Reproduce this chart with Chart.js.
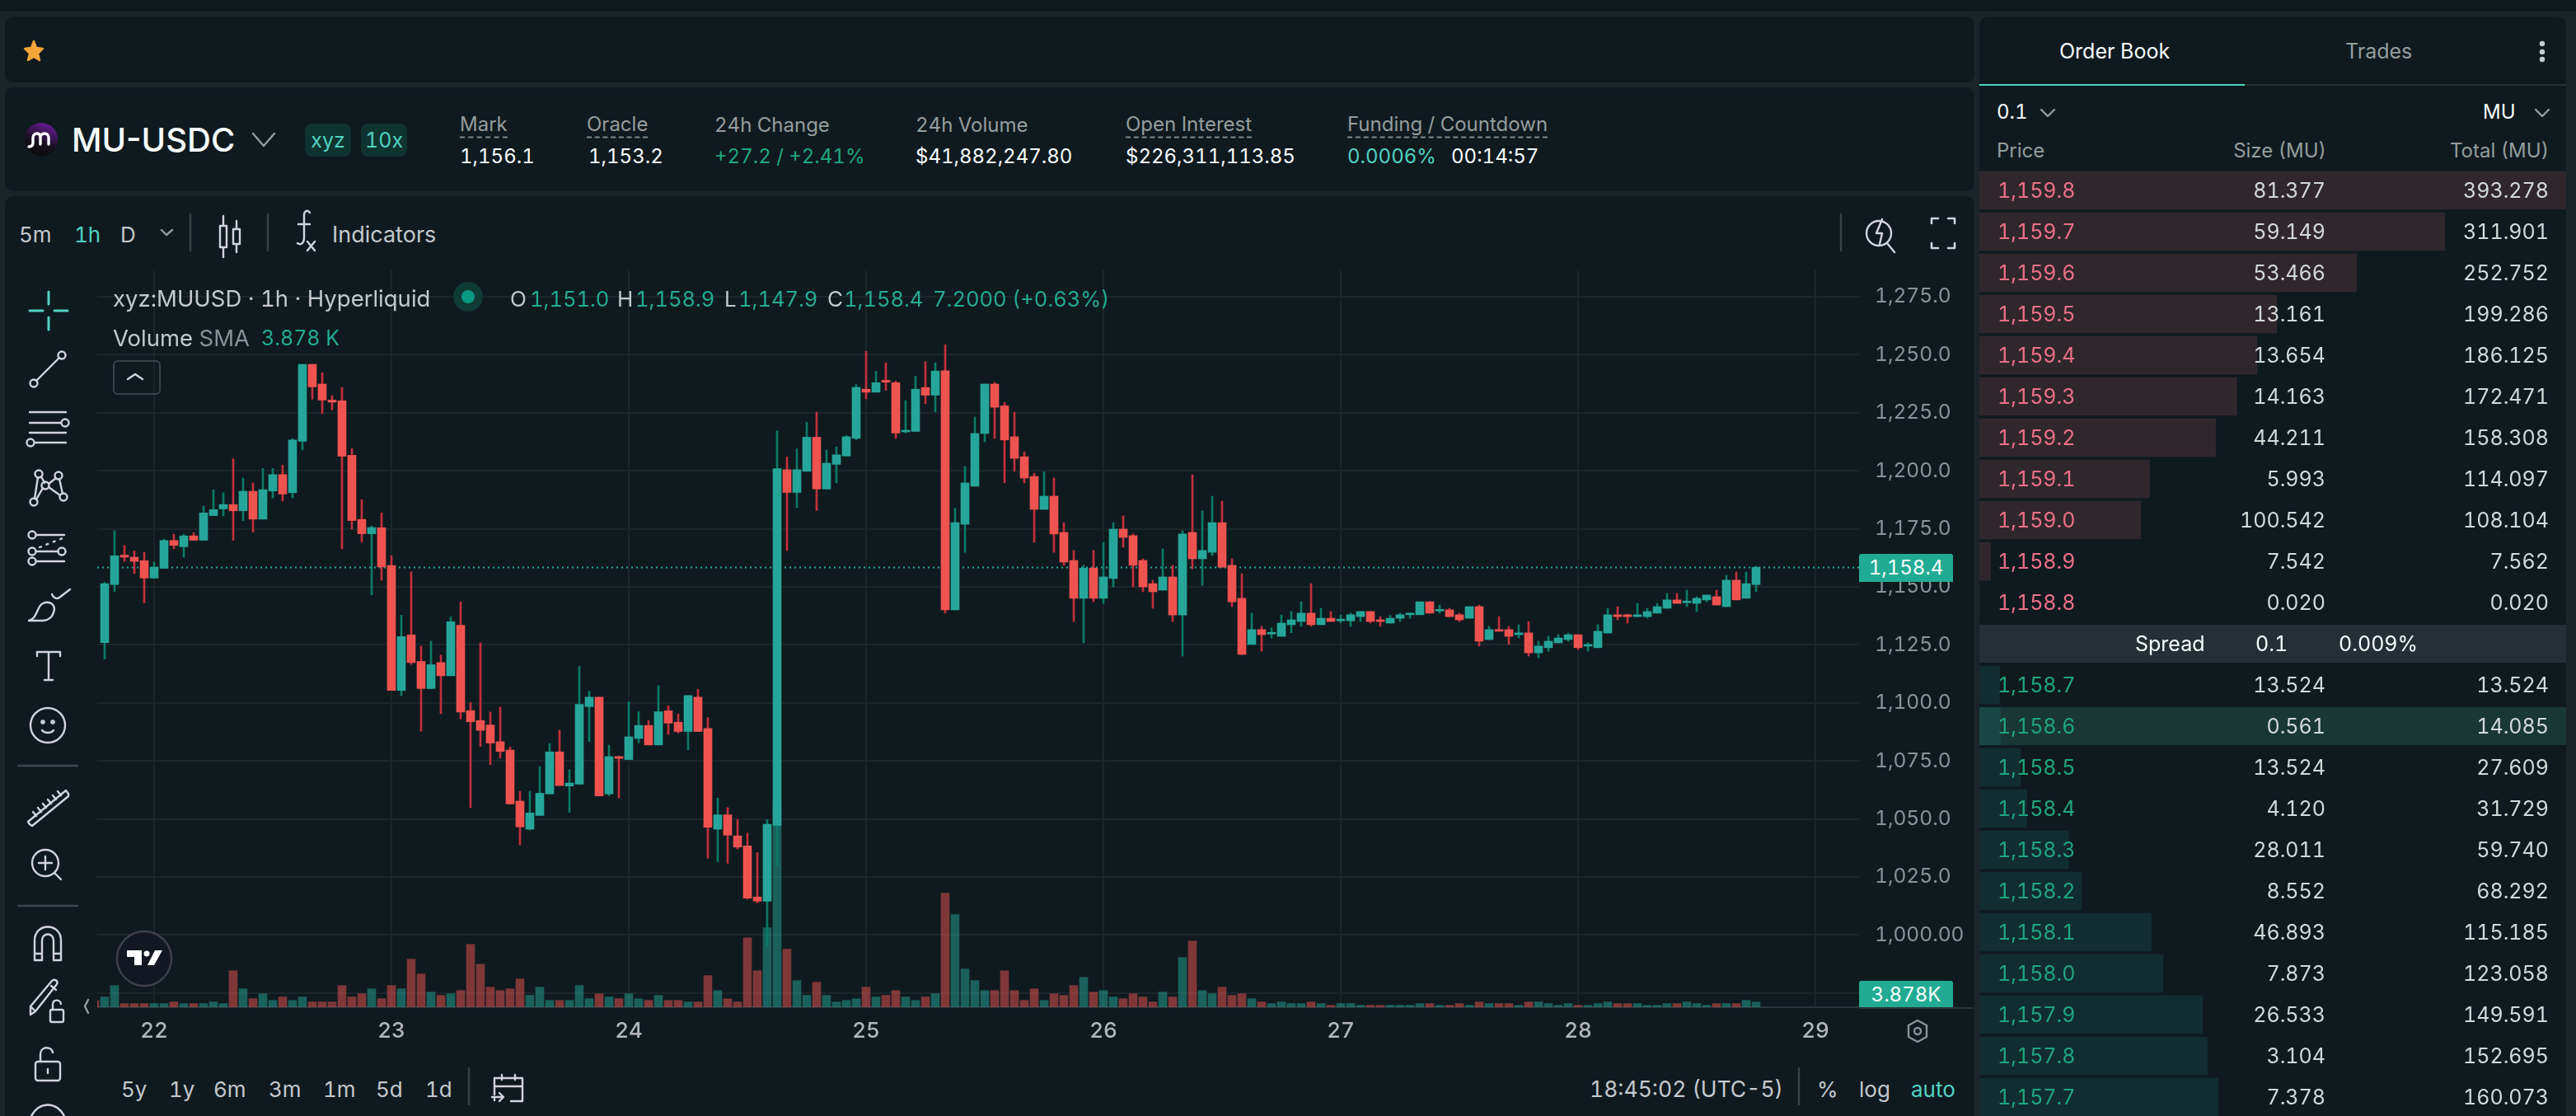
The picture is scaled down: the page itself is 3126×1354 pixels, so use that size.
<!DOCTYPE html>
<html>
<head>
<meta charset="utf-8">
<title>MU-USDC</title>
<script src="https://cdn.jsdelivr.net/npm/chart.js@4/dist/chart.umd.min.js"></script>
<style>
html, body { margin: 0; width: 3126px; height: 1354px; overflow: hidden; background: #1b2429; font-family: Inter, sans-serif; font-variant-numeric: tabular-nums; }
.panel { position: absolute; background: #0f1a1f; border-radius: 10px; }
.t { position: absolute; transform: translateY(-50%); white-space: nowrap; font-size: 25px; color: #d2dad9; }
.r { transform: translate(-100%, -50%); }
.dim { color: #949e9c; }
.w { color: #f6fefd; }
.teal { color: #50d2c1; }
.up { color: #1fa67d; }
.val { font-size: 24px; }
.dash { border-bottom: 2px dashed #7f8a88; padding-bottom: 1px; }
.tool { font-size: 26px; color: #c3c9cc; }
.leg { font-size: 27.5px; color: #c3c9cc; }
.tv { font-size: 25.5px; color: #22ab94; }
.badge { position: absolute; top: 150px; height: 40px; line-height: 40px; border-radius: 8px; background: #0f332f; color: #50d2c1; text-align: center; font-size: 25px; }
.box { position: absolute; }
canvas { position: absolute; }
svg { position: absolute; left: 0; top: 0; fill: none; stroke: #d1d4dc; stroke-width: 2.4; stroke-linecap: round; stroke-linejoin: round; }
.tag { position: absolute; left: 2256px; width: 114px; text-align: center; color: #f6fefd; font-size: 24px; background: #22ab94; border-radius: 3px 3px 0 0; }
</style>
</head>
<body>

<div class="panel" style="left:-4px;top:-10px;width:3130px;height:24px;border-radius:0"></div>
<div class="panel" style="left:6px;top:20px;width:2390px;height:80px"></div>
<div class="panel" style="left:6px;top:106px;width:2390px;height:126px"></div>
<div class="panel" style="left:6px;top:238px;width:2390px;height:1130px"></div>
<div class="panel" style="left:2402px;top:20px;width:712px;height:1350px"></div>

<!-- header -->
<div class="t w" style="left:87px;top:169px;font-size:40px;font-weight:500;font-variant-numeric:normal">MU-USDC</div>
<div class="badge" style="left:370px;width:56px">xyz</div>
<div class="badge" style="left:438px;width:56px">10x</div>
<div class="t dim" style="left:558px;top:150px;font-size:24px"><span class="dash">Mark</span></div>
<div class="t w val" style="left:558px;top:189px">1,156.1</div>
<div class="t dim" style="left:712px;top:150px;font-size:24px"><span class="dash">Oracle</span></div>
<div class="t w val" style="left:714px;top:189px">1,153.2</div>
<div class="t dim" style="left:867px;top:151px;font-size:24px">24h Change</div>
<div class="t up val" style="left:867px;top:189px">+27.2 / +2.41%</div>
<div class="t dim" style="left:1111px;top:151px;font-size:24px">24h Volume</div>
<div class="t w val" style="left:1111px;top:189px">$41,882,247.80</div>
<div class="t dim" style="left:1366px;top:150px;font-size:24px"><span class="dash">Open Interest</span></div>
<div class="t w val" style="left:1366px;top:189px">$226,311,113.85</div>
<div class="t dim" style="left:1635px;top:150px;font-size:24px"><span class="dash">Funding / Countdown</span></div>
<div class="t teal val" style="left:1635px;top:189px">0.0006%</div>
<div class="t w val" style="left:1761px;top:189px">00:14:57</div>

<!-- toolbar -->
<div class="t tool" style="left:23px;top:284px">5m</div>
<div class="t tool" style="left:90px;top:284px;color:#50d2c1">1h</div>
<div class="t tool" style="left:146px;top:284px">D</div>
<div class="t tool" style="left:403px;top:284px;font-size:27px">Indicators</div>

<canvas id="chartPreco" width="2282" height="942" style="left:118px;top:328px"></canvas>

<!-- legend -->
<div class="t leg" style="left:137px;top:362px">xyz:MUUSD · 1h · Hyperliquid</div>
<div class="t tool" style="left:619px;top:362px">O</div>
<div class="t tv" style="left:643px;top:362px">1,151.0</div>
<div class="t tool" style="left:749px;top:362px">H</div>
<div class="t tv" style="left:771px;top:362px">1,158.9</div>
<div class="t tool" style="left:879px;top:362px">L</div>
<div class="t tv" style="left:896px;top:362px">1,147.9</div>
<div class="t tool" style="left:1004px;top:362px">C</div>
<div class="t tv" style="left:1024px;top:362px">1,158.4</div>
<div class="t tv" style="left:1132px;top:362px">7.2000 (+0.63%)</div>
<div class="t leg" style="left:137px;top:410px">Volume <span style="color:#8a9196">SMA</span></div>
<div class="t tv" style="left:317px;top:410px;font-size:25px">3.878 K</div>
<div class="box" style="left:137px;top:437px;width:54px;height:38px;border:2px solid #3a4146;border-radius:6px"></div>

<div class="tag" style="top:672px;height:34px;line-height:34px">1,158.4</div>
<div class="tag" style="top:1190px;height:32px;line-height:33px">3.878K</div>
<div class="box" style="left:2256px;top:1222px;width:138px;height:2px;background:#2a3338"></div>

<!-- bottom bar -->
<div class="t tool" style="left:147px;top:1321px">5y</div>
<div class="t tool" style="left:205px;top:1321px">1y</div>
<div class="t tool" style="left:259px;top:1321px">6m</div>
<div class="t tool" style="left:326px;top:1321px">3m</div>
<div class="t tool" style="left:392px;top:1321px">1m</div>
<div class="t tool" style="left:456px;top:1321px">5d</div>
<div class="t tool" style="left:516px;top:1321px">1d</div>
<div class="t tool" style="left:1929px;top:1321px;font-size:26.5px">18:45:02 (UTC-5)</div>
<div class="t tool" style="left:2205px;top:1321px">%</div>
<div class="t tool" style="left:2256px;top:1321px">log</div>
<div class="t tool" style="left:2319px;top:1321px;color:#50d2c1">auto</div>

<!-- order book -->
<div class="t w" style="left:2499px;top:62px">Order Book</div>
<div class="t dim" style="left:2846px;top:62px">Trades</div>
<div class="box" style="left:2402px;top:102px;width:322px;height:2px;background:#50d2c1"></div>
<div class="box" style="left:2724px;top:102px;width:390px;height:2px;background:#2c2f33"></div>
<div class="t w" style="left:2423px;top:135px;font-size:24px">0.1</div>
<div class="t w" style="left:3013px;top:135px;font-size:24px">MU</div>
<div class="t dim" style="left:2423px;top:182px;font-size:24px">Price</div>
<div class="t dim r" style="left:2823px;top:182px;font-size:24px">Size (MU)</div>
<div class="t dim r" style="left:3093px;top:182px;font-size:24px">Total (MU)</div>

<div class="box" style="left:2402px;top:758px;width:712px;height:46px;background:#272f36"></div>
<div class="box" style="left:2402px;top:858px;width:712px;height:46px;background:#183735"></div>
<canvas id="chartBook" width="712" height="1150" style="left:2402px;top:206px"></canvas>
<div id="linhas"></div>
<div class="t w" style="left:2591px;top:781px">Spread</div>
<div class="t w" style="left:2737px;top:781px">0.1</div>
<div class="t w" style="left:2838px;top:781px">0.009%</div>

<svg width="3126" height="1354">
  <!-- star -->
  <path d="M41 50l3 8 8 1-6 6 2 8-7-4-7 4 2-8-6-6 8-1z" fill="#f5a53a" stroke="#f5a53a"/>
  <!-- logo -->
  <defs><linearGradient id="lg" x1="0.7" y1="0" x2="0.3" y2="1"><stop offset="0" stop-color="#6a1a9a"/><stop offset="0.6" stop-color="#16101c"/><stop offset="1" stop-color="#0a0a0a"/></linearGradient></defs>
  <circle cx="50" cy="169" r="20" fill="url(#lg)" stroke="none"/>
  <path d="M35 178c4 0 5-2 5-5v-6c0-3 2-5 5-5s4 2 4 5v8M49 167c0-3 2-5 5-5s5 2 5 5v8" stroke="#fff" stroke-width="3.4"/>
  <path d="M307 162l13 15 13-15M196 279l6 6 7-6" stroke="#949e9c"/>
  <!-- toolbar icons -->
  <path d="M231 260v44M325 260v44M2234 260v44M569 1296v44M2183 1296v44" stroke="#3a4146"/>
  <path d="M267 274h8v26h-8zM271 262v12M271 300v12M283 278h8v18h-8zM287 268v10M287 296v10"/>
  <path d="M376 258c-3-4-7-2-7 3v28c0 6-4 9-8 6M362 272h14M373 293l9 11M382 293l-9 11"/>
  <circle cx="2280" cy="283" r="15"/><path d="M2290 295l9 11M2284 266l-7 17h7l-3 13"/>
  <path d="M2344 271v-6h8M2364 265h8v6M2372 295v6h-8M2352 301h-8v-6" stroke-width="2.6"/>
  <circle cx="568" cy="360" r="18" fill="#0f3b34" stroke="none"/><circle cx="568" cy="360" r="8" fill="#089981" stroke="none"/>
  <path d="M155 460l9-6 9 6"/>
  <!-- left tools -->
  <path d="M59 354v15M59 385v15M36 377h16M66 377h16" stroke="#50d2c1" stroke-width="3"/>
  <circle cx="41" cy="465" r="4.5"/><circle cx="75" cy="431" r="4.5"/><path d="M44 462l28-28"/>
  <path d="M36 500h44M36 513h38M36 525h44M42 537h38"/><circle cx="79" cy="513" r="4.5"/><circle cx="37" cy="537" r="4.5"/>
  <circle cx="47" cy="575" r="4.5"/><circle cx="71" cy="577" r="4.5"/><circle cx="55" cy="589" r="4.5"/><circle cx="77" cy="603" r="4.5"/><circle cx="41" cy="609" r="4.5"/>
  <path d="M46 579l-4 26M50 578l4 8M59 587l9-7M59 591l14 10M52 592l-8 14M72 581l4 18"/>
  <circle cx="39" cy="649" r="4.5"/><circle cx="39" cy="669" r="4.5"/><circle cx="75" cy="669" r="4.5"/><circle cx="39" cy="681" r="4.5"/>
  <path d="M44 649h34M44 669h26M44 681h34"/><path d="M48 664l28-11" stroke-dasharray="2 7"/>
  <path d="M35 753c8-2 9-10 13-17 5-9 22-6 17 7-2 7-8 10-13 10zM63 721c2 5 6 6 9 4l13-10"/>
  <path d="M45 796v-5h28v5M59 791v32M54 825h10"/>
  <circle cx="58" cy="880" r="21"/><circle cx="52" cy="876" r="1.6"/><circle cx="64" cy="876" r="1.6"/><path d="M51 886c3 4 11 4 14 0"/>
  <path d="M22 929h72M22 1099h72" stroke="#3f464b"/>
  <path d="M36 1000l-2-3 46-38 3 4 0 3-44 36zM44 990l-4-5M50 985l-4-5M56 980l-4-5M62 975l-4-5M68 970l-4-5M74 965l-4-5"/>
  <circle cx="55" cy="1047" r="16"/><path d="M55 1039v16M47 1047h16M66 1059l8 8"/>
  <path d="M42 1165v-24c0-22 32-22 32 0v24h-9v-24c0-10-14-10-14 0v24zM42 1157h9M65 1157h9"/>
  <path d="M37 1231v-10l26-31c3-3 8 0 6 4l-26 33zM37 1221l6 6M62 1196l6 5"/><rect x="61" y="1225" width="16" height="15" rx="2"/><path d="M64 1225v-6c0-7 9-7 10-1"/>
  <rect x="43" y="1288" width="30" height="23" rx="3"/><path d="M49 1288v-9c0-10 14-10 15-2M58 1297v5"/>
  <path d="M38 1354c10-18 30-18 40 0"/>
  <!-- bottom icons -->
  <path d="M107 1213l-4 8 4 8" stroke="#949e9c"/>
  <path d="M600 1335v-2M600 1328v-20h34v28h-14M600 1318h34M609 1304v6M625 1304v6M597 1331h14M606 1326l5 5-5 5"/>
  <path d="M2327 1238l11 6v14l-11 6-11-6v-14z" stroke="#8a9196"/><circle cx="2327" cy="1251" r="4" stroke="#8a9196"/>
  <circle cx="175" cy="1163" r="33" fill="#131722" stroke="#3d4148"/>
  <path d="M154 1153h18v18h-9v-10h-9zM188 1153h9l-10 18h-8z" fill="#fff" stroke="none"/><circle cx="178" cy="1157" r="3.5" fill="#fff" stroke="none"/>
  <!-- order book icons -->
  <path d="M2477 133l8 8 8-8M3077 133l8 8 8-8" stroke="#949e9c"/>
  <circle cx="3085" cy="53" r="2" fill="#c3c9cc" stroke="#c3c9cc"/><circle cx="3085" cy="63" r="2" fill="#c3c9cc" stroke="#c3c9cc"/><circle cx="3085" cy="72" r="2" fill="#c3c9cc" stroke="#c3c9cc"/>
</svg>

<script>
const opens = [
    1126.0,1151.0,1163.7,1162.8,1161.3,1153.8,1158.0,1170.0,1167.3,1172.0,
    1170.1,1180.7,1183.6,1185.5,1182.8,1191.2,1179.2,1191.3,1198.4,1190.6,
    1212.7,1245.9,1237.4,1230.5,1230.2,1206.7,1179.1,1172.9,1175.5,1159.2,
    1105.4,1129.3,1117.9,1106.2,1117.4,1111.7,1133.5,1096.7,1092.4,1090.5,
    1083.3,1079.7,1057.7,1045.6,1051.5,1060.8,1078.9,1064.2,1065.0,1098.4,
    1102.5,1060.8,1076.9,1075.6,1084.7,1090.3,1081.9,1096.6,1091.7,1087.7,
    1102.5,1089.0,1045.6,1051.8,1042.7,1038.4,1016.4,1014.6,1047.2,1200.5,
    1190.7,1199.8,1214.5,1192.2,1202.8,1206.4,1214.0,1235.2,1233.9,1239.0,
    1238.0,1216.8,1217.0,1235.9,1232.6,1243.1,1140.1,1177.0,1193.4,1216.1,
    1237.4,1228.0,1214.7,1206.1,1197.6,1183.4,1189.1,1173.5,1161.4,1145.1,
    1158.1,1145.1,1153.6,1174.9,1172.1,1161.4,1151.4,1148.6,1154.3,1137.9,
    1173.5,1162.1,1164.9,1177.7,1159.3,1145.1,1125.2,1131.6,1129.7,1128.7,
    1133.7,1135.1,1138.7,1133.7,1136.5,1135.4,1135.4,1137.2,1139.4,1135.8,
    1134.4,1136.5,1138.0,1138.0,1143.6,1139.6,1140.1,1138.0,1136.5,1141.5,
    1127.3,1131.6,1131.6,1129.4,1130.2,1121.6,1123.8,1125.9,1127.3,1129.4,
    1124.5,1123.8,1130.1,1138.0,1138.0,1137.2,1137.2,1138.7,1140.8,1144.4,
    1143.2,1142.9,1144.4,1145.8,1141.5,1152.9,1145.1,1151.0
];
const closes = [
    1151.4,1163.4,1162.8,1161.0,1153.8,1158.5,1170.0,1167.9,1172.0,1170.1,
    1181.9,1183.3,1185.5,1182.8,1191.2,1179.2,1191.9,1198.4,1190.0,1213.3,
    1245.9,1236.2,1230.5,1229.6,1206.3,1178.6,1172.9,1175.6,1158.6,1105.4,
    1128.6,1117.4,1106.2,1116.5,1111.7,1135.0,1096.1,1091.9,1088.2,1082.7,
    1079.1,1056.5,1046.6,1052.6,1061.1,1078.9,1064.4,1065.5,1099.4,1102.5,
    1059.9,1076.9,1076.1,1085.4,1090.3,1081.9,1096.2,1091.3,1087.7,1103.2,
    1087.7,1046.4,1051.8,1043.0,1037.9,1015.9,1014.6,1047.7,1201.0,1190.7,
    1200.5,1214.5,1192.2,1203.3,1206.9,1214.7,1236.0,1233.9,1238.0,1238.2,
    1216.3,1217.4,1235.2,1232.6,1243.0,1140.1,1177.7,1194.8,1216.1,1237.4,
    1227.4,1213.3,1205.4,1196.9,1183.4,1189.1,1172.8,1160.7,1145.1,1158.1,
    1145.1,1154.3,1174.9,1171.3,1159.3,1150.0,1147.9,1154.3,1137.9,1172.8,
    1162.1,1165.7,1177.7,1158.5,1143.6,1120.9,1131.6,1129.4,1130.2,1134.4,
    1135.8,1138.7,1133.7,1136.5,1135.1,1135.8,1138.0,1139.4,1135.1,1135.1,
    1136.5,1138.0,1138.7,1143.6,1138.7,1140.3,1137.2,1135.8,1141.5,1126.6,
    1131.6,1130.9,1128.7,1130.2,1121.6,1124.5,1126.6,1128.0,1129.4,1123.8,
    1125.2,1130.9,1138.0,1137.2,1137.2,1138.0,1139.4,1141.5,1144.4,1142.9,
    1143.9,1145.1,1146.5,1142.2,1152.9,1144.4,1151.4,1158.4
];
const highs = [
    1152.0,1174.2,1167.9,1165.5,1164.9,1160.7,1170.6,1172.7,1172.7,1173.4,
    1184.9,1191.8,1190.6,1205.2,1196.9,1194.8,1201.0,1201.0,1202.5,1213.9,
    1245.9,1245.9,1242.3,1232.4,1235.9,1209.7,1187.6,1176.2,1181.9,1163.4,
    1137.8,1156.5,1124.5,1126.6,1120.6,1137.1,1143.5,1100.2,1125.9,1096.1,
    1098.2,1081.0,1061.9,1061.9,1072.5,1082.5,1088.3,1071.2,1115.7,1105.1,
    1102.5,1081.8,1077.1,1100.4,1096.2,1092.4,1107.4,1098.8,1095.2,1103.2,
    1105.9,1093.7,1059.0,1054.9,1049.7,1043.9,1035.5,1049.7,1217.3,1206.0,
    1209.5,1220.9,1225.3,1209.0,1210.3,1215.2,1237.2,1251.5,1242.9,1246.6,
    1238.7,1230.3,1240.8,1247.1,1246.6,1254.3,1183.9,1201.9,1223.2,1237.4,
    1238.1,1229.5,1225.3,1208.2,1199.0,1199.6,1196.9,1177.7,1165.7,1159.3,
    1165.7,1169.2,1177.7,1180.6,1172.8,1162.1,1152.9,1166.4,1159.3,1174.2,
    1198.3,1182.7,1189.1,1187.0,1162.1,1155.7,1138.7,1133.0,1132.3,1137.9,
    1139.4,1143.6,1151.4,1140.8,1139.4,1137.9,1138.7,1139.4,1139.4,1137.2,
    1137.7,1138.7,1138.7,1143.6,1143.6,1142.2,1140.8,1138.7,1141.5,1142.2,
    1133.0,1137.2,1133.0,1133.7,1135.1,1126.6,1128.7,1129.4,1130.1,1129.4,
    1125.9,1133.7,1140.8,1141.5,1138.3,1142.9,1140.8,1142.9,1147.2,1147.2,
    1148.6,1145.8,1146.5,1148.6,1155.0,1156.4,1156.4,1158.9
];
const lows = [
    1118.9,1148.0,1161.0,1155.8,1143.1,1153.8,1158.0,1166.4,1162.8,1170.1,
    1170.1,1180.7,1180.6,1170.1,1178.5,1173.6,1179.2,1188.3,1187.0,1188.3,
    1209.0,1230.9,1224.7,1226.2,1166.4,1174.9,1169.4,1146.5,1152.9,1105.4,
    1103.2,1116.6,1087.8,1106.2,1095.4,1111.7,1093.1,1054.9,1081.2,1073.4,
    1076.3,1056.5,1038.8,1045.3,1051.5,1060.8,1064.4,1052.9,1065.0,1083.4,
    1059.9,1060.0,1059.1,1075.6,1082.8,1081.9,1081.9,1086.4,1087.0,1079.8,
    1087.7,1033.1,1031.6,1030.9,1037.1,1015.4,1013.8,995.2,1030.1,1165.6,
    1184.2,1199.8,1182.9,1192.2,1194.8,1206.4,1213.4,1231.0,1233.9,1234.7,
    1214.0,1216.3,1217.0,1229.0,1225.4,1138.7,1140.1,1164.9,1193.4,1212.5,
    1213.9,1194.8,1199.8,1194.8,1169.2,1183.4,1164.9,1159.3,1135.1,1125.9,
    1143.6,1142.9,1150.0,1167.1,1150.0,1147.9,1140.8,1148.6,1135.1,1120.2,
    1157.8,1150.7,1163.5,1158.5,1141.5,1120.9,1125.2,1122.3,1128.0,1128.7,
    1130.2,1133.0,1133.0,1133.7,1135.1,1134.4,1133.0,1135.1,1134.4,1133.0,
    1134.4,1135.1,1136.5,1138.0,1138.7,1138.7,1137.2,1135.1,1136.5,1124.5,
    1127.3,1130.9,1125.2,1128.0,1120.2,1119.5,1122.3,1125.9,1126.6,1123.0,
    1122.3,1123.8,1130.1,1135.8,1134.4,1137.2,1136.5,1138.7,1140.8,1142.9,
    1141.5,1139.4,1143.6,1142.2,1141.5,1144.4,1145.1,1147.9
];
// volume em milhares
const volumes = [
    7.6,16.1,2.7,2.7,2.7,2.7,2.7,3.9,2.7,2.7,
    2.7,3.9,2.7,27.1,13.7,6.3,10.0,5.1,7.6,5.1,
    7.6,3.9,3.9,3.9,16.1,7.6,10.0,13.7,6.3,16.1,
    13.7,35.7,24.7,11.2,8.8,10.0,12.4,46.7,32.0,14.9,
    12.4,13.7,21.0,8.8,14.9,5.1,5.1,5.1,16.1,6.3,
    10.0,7.6,6.3,10.0,6.3,5.1,8.8,5.1,5.1,3.9,
    3.9,23.5,12.4,6.3,3.9,51.6,27.1,59.0,150,43.1,
    19.8,8.8,18.6,8.8,3.9,5.1,6.3,14.9,7.6,8.8,
    12.4,7.6,5.1,7.6,10.0,84.7,68.8,28.4,19.8,12.4,
    12.4,27.1,12.4,5.1,13.7,5.1,10.0,8.8,16.1,22.2,
    11.2,12.4,7.6,6.3,10.0,7.6,3.9,11.2,7.6,36.9,
    49.2,12.4,10.0,14.9,8.8,10.0,6.3,3.9,2.7,3.9,
    2.7,2.7,3.9,2.7,1.4,2.7,2.7,1.4,1.4,1.4,
    1.4,1.4,1.4,2.7,2.7,1.4,1.4,2.7,1.4,3.9,
    2.7,2.7,2.7,1.4,3.9,3.9,2.7,1.4,2.7,1.4,
    1.4,2.7,3.9,2.7,2.7,2.7,1.4,1.4,2.7,2.7,
    3.9,2.7,1.4,2.7,2.7,2.7,5.1,3.878
];
const volumeAntesDoInicio = 4.9;
const ultimoPreco = 1158.4;

const diasLabels = ['22', '23', '24', '25', '26', '27', '28', '29'];
const diasIndice = [5, 29, 53, 77, 101, 125, 149, 173];
const precoTicks = [975, 1000, 1025, 1050, 1075, 1100, 1125, 1150, 1175, 1200, 1225, 1250, 1275];
const precoLabels = ['', '1,000.00', '1,025.0', '1,050.0', '1,075.0', '1,100.0', '1,125.0', '1,150.0', '1,175.0', '1,200.0', '1,225.0', '1,250.0', '1,275.0'];

const askPrecos = ['1,159.8', '1,159.7', '1,159.6', '1,159.5', '1,159.4', '1,159.3', '1,159.2', '1,159.1', '1,159.0', '1,158.9', '1,158.8'];
const askSizes = ['81.377', '59.149', '53.466', '13.161', '13.654', '14.163', '44.211', '5.993', '100.542', '7.542', '0.020'];
const askTotais = [393.278, 311.901, 252.752, 199.286, 186.125, 172.471, 158.308, 114.097, 108.104, 7.562, 0.020];
const bidPrecos = ['1,158.7', '1,158.6', '1,158.5', '1,158.4', '1,158.3', '1,158.2', '1,158.1', '1,158.0', '1,157.9', '1,157.8', '1,157.7'];
const bidSizes = ['13.524', '0.561', '13.524', '4.120', '28.011', '8.552', '46.893', '7.873', '26.533', '3.104', '7.378'];
const bidTotais = [13.524, 14.085, 27.609, 31.729, 59.740, 68.292, 115.185, 123.058, 149.591, 152.695, 160.073];

const VERDE = '#26a69a', VERMELHO = '#ef5350';
const subiu = opens.map((o, i) => closes[i] >= o);

const eixoPreco = 'y', eixoVolume = 'vol';

new Chart(document.getElementById('chartPreco'), {
    data: {
        datasets: [
            {
                type: 'bar',
                yAxisID: eixoVolume,
                order: 4,
                grouped: false,
                barThickness: 10,
                data: [{ x: -1, y: volumeAntesDoInicio }].concat(volumes.map((v, i) => ({ x: i, y: v }))),
                backgroundColor: ['rgba(239,83,80,0.5)'].concat(subiu.map(s => s ? 'rgba(38,166,154,0.5)' : 'rgba(239,83,80,0.5)'))
            },
            {
                type: 'line',
                yAxisID: eixoPreco,
                order: 3,
                data: [{ x: -0.75, y: ultimoPreco }, { x: 177.4167, y: ultimoPreco }],
                borderColor: VERDE,
                borderWidth: 2,
                borderDash: [2, 4],
                pointRadius: 0
            },
            {
                type: 'bar',
                yAxisID: eixoPreco,
                order: 2,
                grouped: false,
                barThickness: 2,
                data: highs.map((h, i) => ({ x: i, y: [lows[i], h] })),
                backgroundColor: subiu.map(s => s ? '#0a7a68' : '#c2303c')
            },
            {
                type: 'bar',
                yAxisID: eixoPreco,
                order: 1,
                grouped: false,
                barThickness: 10,
                minBarLength: 2,
                data: opens.map((o, i) => ({ x: i, y: [o, closes[i]] })),
                backgroundColor: subiu.map(s => s ? VERDE : VERMELHO)
            }
        ]
    },
    options: {
        responsive: false,
        animation: false,
        layout: { padding: 0, autoPadding: false },
        plugins: { legend: { display: false }, tooltip: { enabled: false } },
        scales: {
            x: {
                type: 'linear',
                offset: false,
                min: -0.75,
                max: 177.4167,
                afterBuildTicks: axis => { axis.ticks = diasIndice.map(v => ({ value: v })); },
                afterFit: axis => { axis.height = 48; axis.paddingLeft = 0; axis.paddingRight = 0; },
                grid: { offset: false, color: '#1b262b', lineWidth: 2, drawTicks: false },
                border: { color: '#2a3338', width: 2 },
                ticks: {
                    autoSkip: false,
                    maxRotation: 0,
                    padding: 14,
                    color: '#b2b7ba',
                    font: { family: 'Inter', size: 26, weight: 500 },
                    callback: (v, i) => diasLabels[i]
                }
            },
            y: {
                position: 'right',
                min: 968.9,
                max: 1286.4,
                afterBuildTicks: axis => { axis.ticks = precoTicks.map(v => ({ value: v })); },
                // sem isso o Chart.js reserva espaço acima do último tick
                afterFit: axis => { axis.width = 144; axis.paddingTop = 0; axis.paddingBottom = 0; },
                grid: { color: '#1b262b', lineWidth: 2, drawTicks: false },
                border: { display: false },
                ticks: {
                    padding: 19,
                    crossAlign: 'near',
                    color: '#8b9398',
                    font: { family: 'Inter', size: 24.5 },
                    callback: (v, i) => precoLabels[i]
                }
            },
            vol: {
                display: false,
                min: 0,
                max: 547.4
            }
        }
    }
});

// livro de ordens: asks + linha do spread + bids
const linhasLabels = askPrecos.concat(['Spread'], bidPrecos);
const linhasTotais = askTotais.concat([null], bidTotais);

new Chart(document.getElementById('chartBook'), {
    type: 'bar',
    data: {
        labels: linhasLabels,
        datasets: [{
            data: linhasTotais,
            barThickness: 46,
            backgroundColor: linhasTotais.map((t, i) => i < askTotais.length ? 'rgba(255,120,130,0.14)' : 'rgba(38,166,154,0.14)')
        }]
    },
    options: {
        indexAxis: 'y',
        responsive: false,
        animation: false,
        layout: { padding: 0 },
        plugins: { legend: { display: false }, tooltip: { enabled: false } },
        scales: {
            x: { display: false, min: 0, max: askTotais[0] },
            y: { display: false }
        }
    }
});

function addLinha(preco, size, total, yCentro, cor) {
    const html = `<div class="t" style="left:2424px;top:${yCentro}px;color:${cor}">${preco}</div>` +
        `<div class="t r" style="left:2822px;top:${yCentro}px">${size}</div>` +
        `<div class="t r" style="left:3093px;top:${yCentro}px">${total}</div>`;
    document.getElementById('linhas').insertAdjacentHTML('beforeend', html);
}

askPrecos.forEach((p, i) => addLinha(p, askSizes[i], askTotais[i].toFixed(3), 231 + i * 50, '#ed7088'));
bidPrecos.forEach((p, i) => addLinha(p, bidSizes[i], bidTotais[i].toFixed(3), 831 + i * 50, '#1fa67d'));
</script>
</body>
</html>
